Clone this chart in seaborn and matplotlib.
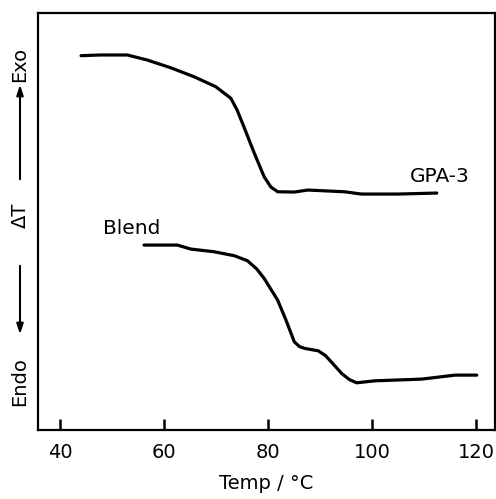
import matplotlib
matplotlib.use("Agg")
import matplotlib.pyplot as plt
import pandas as pd
import seaborn as sns

# DSC traces (temperature in °C, ΔT in arbitrary units)
gpa_temp = [44.0, 47.7, 52.9, 56.7, 61.2, 65.7, 69.9, 72.8, 74.0, 75.3, 77.3,
            78.5, 79.2, 80.5, 81.8, 85.0, 87.6, 94.6, 97.9, 105.0, 112.4]
gpa_dt = [374.3, 375.0, 375.0, 370.0, 362.3, 353.3, 343.3, 331.7, 320.0, 303.3, 277.0,
          262.0, 253.3, 243.0, 238.3, 238.0, 240.0, 238.3, 236.0, 236.0, 237.0]

blend_temp = [56.1, 62.5, 65.1, 69.6, 73.5, 76.0, 77.8, 79.2, 81.8, 83.4, 85.0,
              86.0, 87.0, 89.6, 91.0, 92.1, 94.1, 95.6, 97.0, 100.5, 109.5, 115.9, 120.1]
blend_dt = [185.0, 185.0, 181.0, 178.3, 174.3, 169.3, 161.0, 151.7, 130.0, 110.0, 88.3,
            83.5, 81.7, 79.3, 74.5, 68.3, 56.7, 50.5, 47.3, 49.3, 51.0, 55.0, 55.0]

df = pd.concat([
    pd.DataFrame({"temp": gpa_temp, "dt": gpa_dt, "sample": "GPA-3"}),
    pd.DataFrame({"temp": blend_temp, "dt": blend_dt, "sample": "Blend"}),
])

sns.set_style("ticks")
plt.rcParams["font.family"] = ["DejaVu Sans"]
plt.rcParams["text.color"] = "black"
plt.rcParams["xtick.color"] = "black"
plt.rcParams["axes.labelcolor"] = "black"
plt.rcParams["axes.edgecolor"] = "black"

fig = plt.figure(figsize=(4.96, 4.99), dpi=100)
ax = fig.add_axes([0.077, 0.138, 0.921, 0.836])

sns.lineplot(data=df, x="temp", y="dt", units="sample", estimator=None,
             color="black", linewidth=2.3, sort=False, ax=ax,
             solid_joinstyle="round", solid_capstyle="round")

ax.set_xlim(35.75, 123.6)
ax.set_ylim(0, 417)
ax.set_xticks([40, 60, 80, 100, 120])
ax.set_yticks([])
ax.tick_params(axis="x", direction="in", length=8, width=1.8,
               labelsize=14, pad=9)
for s in ax.spines.values():
    s.set_linewidth(1.6)
ax.set_xlabel("Temp / °C", fontsize=14, labelpad=9)
ax.set_ylabel("")

H = 499.0
W = 496.0
def fy(py):
    return 1 - py / H

fig.text(410 / W, fy(177), "GPA-3", fontsize=14.5, va="center", ha="left")
fig.text(103 / W, fy(228), "Blend", fontsize=14.5, va="center", ha="left")

# y label: Endo <-- ΔT --> Exo
fx = 20 / W
fig.text(fx, fy(64), "Exo", rotation=90, ha="center", va="center", fontsize=14)
fig.text(fx, fy(215), "ΔT", rotation=90, ha="center", va="center", fontsize=14)
fig.text(fx, fy(382), "Endo", rotation=90, ha="center", va="center", fontsize=14)
arrow = dict(arrowstyle="-|>,head_length=0.6,head_width=0.2", color="black", lw=1.5)
ax.annotate("", xy=(fx, fy(82)), xytext=(fx, fy(182)),
            xycoords="figure fraction", textcoords="figure fraction",
            arrowprops=arrow, annotation_clip=False)
ax.annotate("", xy=(fx, fy(337)), xytext=(fx, fy(263)),
            xycoords="figure fraction", textcoords="figure fraction",
            arrowprops=arrow, annotation_clip=False)

fig.savefig("out.png", dpi=100)
